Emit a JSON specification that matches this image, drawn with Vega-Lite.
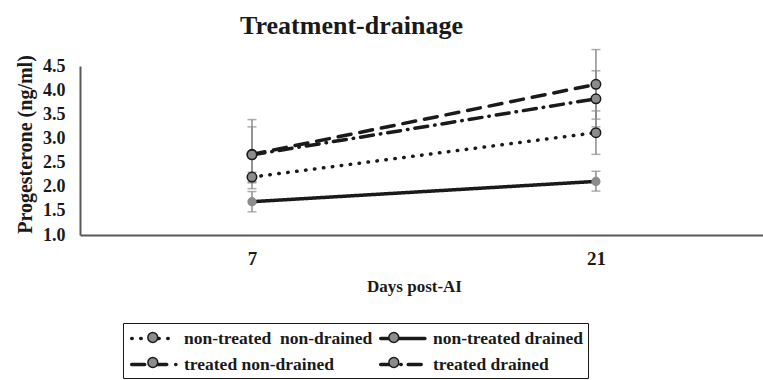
{
  "$schema": "https://vega.github.io/schema/vega-lite/v6.json",
  "autosize": "none",
  "width": 683,
  "height": 169,
  "padding": {"left": 80, "top": 66, "right": 0, "bottom": 145},
  "background": "white",
  "title": {"text": "Treatment-drainage", "font": "Liberation Serif", "fontSize": 26, "fontWeight": "bold", "color": "#1a1a1a", "anchor": "middle", "dx": -70, "offset": 10},
  "config": {
    "view": {"stroke": null},
    "axis": {"domainColor": "#595959", "domainWidth": 2, "ticks": false, "grid": false, "labelFont": "Liberation Serif", "labelFontWeight": "bold", "labelColor": "#1a1a1a", "titleFont": "Liberation Serif", "titleFontWeight": "bold", "titleColor": "#1a1a1a", "labelOverlap": false},
    "axisX": {"labelFontSize": 19, "labelPadding": 14, "titleFontSize": 17, "titlePadding": 10},
    "axisY": {"labelFontSize": 18, "labelPadding": 15, "titleFontSize": 20},
    "legend": {"labelFont": "Liberation Serif", "labelFontSize": 17.5, "labelFontWeight": "bold", "labelLimit": 300, "padding": 5, "rowPadding": 7, "columnPadding": 0, "columns": 2, "orient": "none", "legendX": 43, "legendY": 257, "title": null, "symbolSize": 289, "labelOffset": 35}
  },
  "data": {"values": [
    {"day": 7, "group": "non-treated non-drained", "value": 2.2, "lo": 2.1, "hi": 2.3},
    {"day": 21, "group": "non-treated non-drained", "value": 3.12, "lo": 2.67, "hi": 3.57},
    {"day": 7, "group": "non-treated drained", "value": 1.69, "lo": 1.48, "hi": 1.9},
    {"day": 21, "group": "non-treated drained", "value": 2.11, "lo": 1.91, "hi": 2.32},
    {"day": 7, "group": "treated non-drained", "value": 2.67, "lo": 1.96, "hi": 3.39},
    {"day": 21, "group": "treated non-drained", "value": 4.12, "lo": 3.4, "hi": 4.84},
    {"day": 7, "group": "treated drained", "value": 2.66, "lo": 2.08, "hi": 3.24},
    {"day": 21, "group": "treated drained", "value": 3.82, "lo": 3.24, "hi": 4.4}
  ]},
  "encoding": {
    "x": {"field": "day", "type": "quantitative", "scale": {"domain": [0, 27.8], "nice": false, "zero": false},
      "axis": {"values": [7, 21], "title": "Days post-AI", "titleX": 334}}
  },
  "layer": [
    {
      "mark": {"type": "rule", "color": "#8c8c8c", "strokeWidth": 1.5},
      "encoding": {
        "y": {"field": "lo", "type": "quantitative", "scale": {"domain": [1, 4.5], "nice": false, "zero": false},
          "axis": {"values": [1, 1.5, 2, 2.5, 3, 3.5, 4, 4.5], "tickCount": 8, "format": ".1f",
            "title": "Progesterone (ng/ml)", "titleX": -55, "titleY": 78, "titleBaseline": "middle", "titleAngle": -90, "titleAlign": "center"}},
        "y2": {"field": "hi"}
      }
    },
    {
      "mark": {"type": "tick", "orient": "horizontal", "color": "#8c8c8c", "strokeWidth": 1.5, "size": 9, "thickness": 1.5},
      "encoding": {"y": {"field": "lo", "type": "quantitative",
        "axis": {"values": [1, 1.5, 2, 2.5, 3, 3.5, 4, 4.5], "tickCount": 8, "format": ".1f",
          "title": "Progesterone (ng/ml)", "titleX": -55, "titleY": 78, "titleBaseline": "middle", "titleAngle": -90, "titleAlign": "center"}}}
    },
    {
      "mark": {"type": "tick", "orient": "horizontal", "color": "#8c8c8c", "strokeWidth": 1.5, "size": 9, "thickness": 1.5},
      "encoding": {"y": {"field": "hi", "type": "quantitative",
        "axis": {"values": [1, 1.5, 2, 2.5, 3, 3.5, 4, 4.5], "tickCount": 8, "format": ".1f",
          "title": "Progesterone (ng/ml)", "titleX": -55, "titleY": 78, "titleBaseline": "middle", "titleAngle": -90, "titleAlign": "center"}}}
    },
    {
      "mark": {"type": "line", "color": "#1a1a1a", "strokeWidth": 3.5, "strokeCap": "round"},
      "encoding": {
        "y": {"field": "value", "type": "quantitative",
          "axis": {"values": [1, 1.5, 2, 2.5, 3, 3.5, 4, 4.5], "tickCount": 8, "format": ".1f",
            "title": "Progesterone (ng/ml)", "titleX": -55, "titleY": 78, "titleBaseline": "middle", "titleAngle": -90, "titleAlign": "center"}},
        "strokeDash": {"field": "group", "type": "nominal",
          "scale": {"domain": ["non-treated non-drained", "treated non-drained", "non-treated drained", "treated drained"],
            "range": [[0.5, 8.5], [13, 9], [1, 0], [13, 7, 0.5, 7]]},
          "legend": {
            "symbolType": "M-0.8,0H4.4", "symbolStrokeWidth": 3.5, "symbolStrokeColor": "#1a1a1a",
            "labelColor": "#1a1a1a",
            "labelExpr": "datum.label == 'non-treated non-drained' ? 'non-treated\u00a0 non-drained' : datum.label",
            "strokeColor": "#1a1a1a",
            "encode": {"symbols": {"update": {"strokeCap": {"value": "round"}, "stroke": {"value": "#1a1a1a"}}}}}
        }
      }
    },
    {
      "mark": {"type": "point", "filled": true, "opacity": 1, "strokeWidth": 1.5, "strokeOpacity": 1},
      "encoding": {
        "y": {"field": "value", "type": "quantitative",
          "axis": {"values": [1, 1.5, 2, 2.5, 3, 3.5, 4, 4.5], "tickCount": 8, "format": ".1f",
            "title": "Progesterone (ng/ml)", "titleX": -55, "titleY": 78, "titleBaseline": "middle", "titleAngle": -90, "titleAlign": "center"}},
        "fill": {"field": "group", "type": "nominal",
          "sort": ["non-treated non-drained", "treated non-drained", "non-treated drained", "treated drained"],
          "scale": {"range": ["#8c8c8c"]},
          "legend": {
            "symbolType": "M1.22,0A0.58,0.58 0 1,0 2.38,0A0.58,0.58 0 1,0 1.22,0", "symbolStrokeWidth": 1.5,
            "symbolStrokeColor": "#1a1a1a", "symbolFillColor": "#8c8c8c", "labelColor": "#1a1a1a",
            "labelExpr": "''", "columnPadding": 187,
            "strokeColor": null,
            "encode": {"symbols": {"update": {"stroke": {"signal": "datum.value == 'non-treated drained' ? '#8c8c8c' : '#1a1a1a'"}, "fill": {"value": "#8c8c8c"}, "opacity": {"value": 1}}}}}
        },
        "stroke": {"condition": {"test": "datum.group == 'non-treated drained'", "value": "#8c8c8c"}, "value": "#1a1a1a"},
        "size": {"condition": {"test": "datum.group == 'non-treated drained'", "value": 60}, "value": 90}
      }
    }
  ]
}
